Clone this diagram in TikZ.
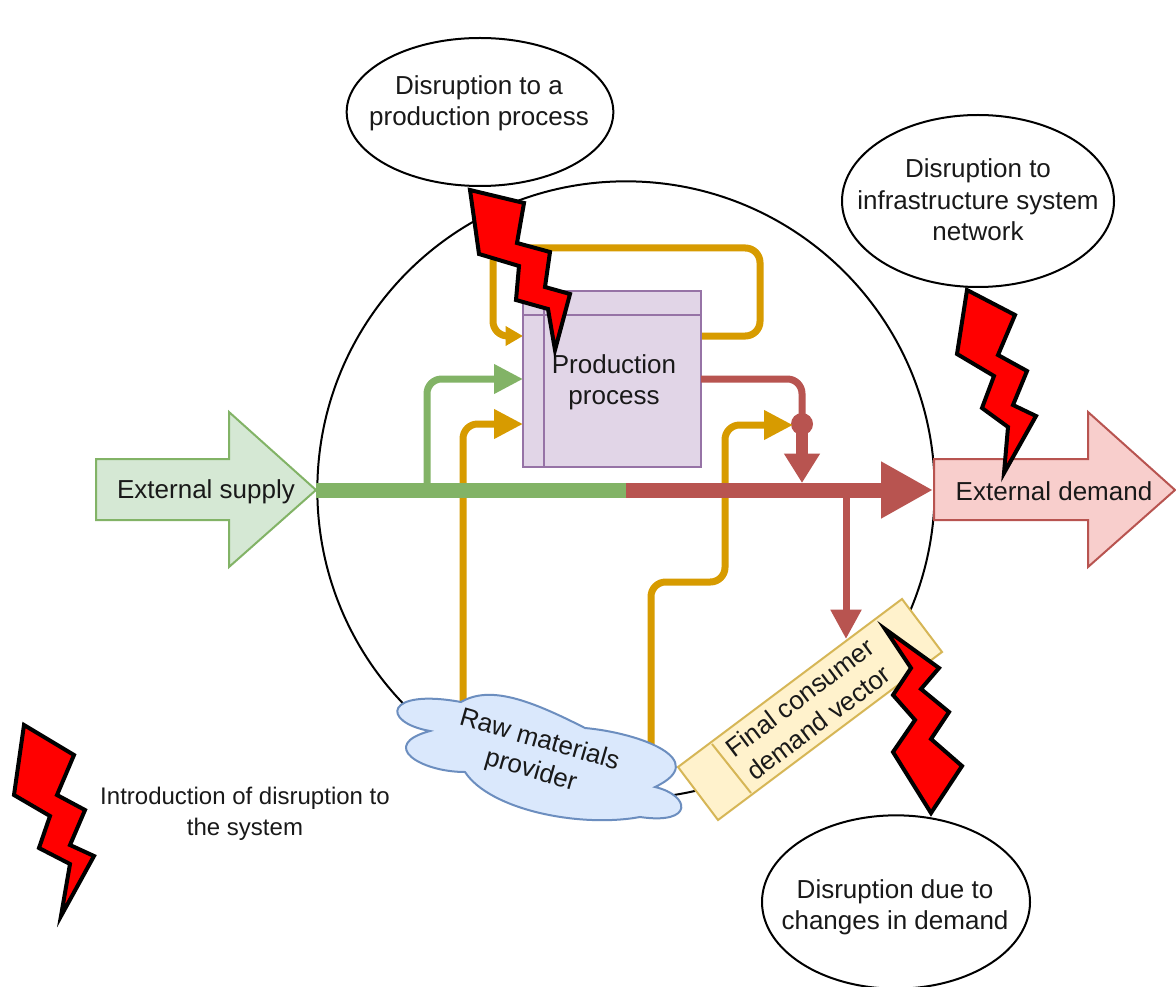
\documentclass[tikz,border=0pt]{standalone}
\usepackage{fontspec}
\setmainfont{Liberation Sans}
\usetikzlibrary{arrows.meta,shapes.geometric}
\definecolor{orangeline}{HTML}{D79B00}
\definecolor{greenline}{HTML}{82B366}
\definecolor{redline}{HTML}{B85450}
\definecolor{greenfill}{HTML}{D5E8D4}
\definecolor{redfill}{HTML}{F8CECC}
\definecolor{purpleline}{HTML}{9673A6}
\definecolor{purplefill}{HTML}{E1D5E7}
\definecolor{blueline}{HTML}{6C8EBF}
\definecolor{bluefill}{HTML}{DAE8FC}
\definecolor{yellowline}{HTML}{D6B656}
\definecolor{yellowfill}{HTML}{FFF2CC}
\tikzset{
  label text/.style={font=\fontsize{19.5pt}{23.5pt}\selectfont,align=center,text=black!90},
  bubble/.style={ellipse,draw=black,fill=white,line width=1.5pt,inner sep=0pt},
  bolt/.style={draw=black,fill=red,line width=3pt,miter limit=10},
  flow/.style={line width=5.25pt,rounded corners=11pt},
  bigtip/.style={-{Triangle[length=21.75pt,width=21pt]}},
  smalltip/.style={-{Triangle[length=13pt,width=14pt]}}
}
\begin{document}
\begin{tikzpicture}[x=0.75pt,y=-0.75pt]
\useasboundingbox (0,0) rectangle (1176,987);
\fill[white] (0,0) rectangle (1176,987);
% system boundary
\node (system) [circle,draw=black,line width=1.5pt,minimum size=463pt,inner sep=0pt] at (626,490) {};
% supply and demand
\draw[draw=greenline,fill=greenfill,line width=1.5pt]
  (96,459) -- (229,459) -- (229,412) -- (316,490) -- (229,567) -- (229,520) -- (96,520) -- cycle;
\draw[draw=redline,fill=redfill,line width=1.5pt]
  (934,459) -- (1088,459) -- (1088,412) -- (1175,490) -- (1088,567) -- (1088,520) -- (934,520) -- cycle;
\node (supply) [label text] at (206,492) {External supply};
\node (demand) [label text] at (1054,491) {External demand};
% named ends of the flows
\coordinate (supplytip) at (316,490);
\coordinate (split) at (626,490);
\coordinate (demandtip) at (933,490);
\coordinate (greenup) at (427,490);
\coordinate (redup) at (802,483);
\coordinate (reddown) at (846,490);
\coordinate (procloopout) at (701,336);
\coordinate (procloopin) at (523,336);
\coordinate (procraw) at (523,424);
\coordinate (rawleft) at (463,702);
\coordinate (rawright) at (651,748);
\coordinate (vectortop) at (846,639);
% process box
\draw[orangeline,flow,smalltip] (procloopout) -- (760,336) -- (760,248) -- (493,248) -- (493,336) -- (procloopin);
\node (process) [draw=purpleline,fill=purplefill,line width=1.5pt,minimum width=133.5pt,
  minimum height=132pt,inner sep=0pt,outer sep=0pt] at (612,379) {};
\draw[purpleline,line width=1.5pt] (523,315) -- (701,315) (544,291) -- (544,467);
\node (proctext) [label text] at (614,382) {Production\\process};
% flows
\node (junction) [circle,fill=redline,minimum size=16.5pt,inner sep=0pt] at (802,424) {};
\draw[orangeline,flow,bigtip] (rawleft) -- (463,424) -- (procraw);
\draw[orangeline,flow,bigtip] (rawright) -- (651,582) -- (725,582) -- (725,425) -- (793,425);
\draw[greenline,flow,bigtip] (greenup) -- (greenup|-process.west) -- (process.west);
\draw[redline,flow] (process.east) -- (junction|-process.east) -- (junction.center);
\draw[redline,line width=9pt,-{Triangle[length=22pt,width=25.5pt]}] (junction.center) -- (redup);
\draw[greenline,line width=11.25pt] (supplytip) -- (split);
\draw[redline,line width=11.25pt,-{Triangle[length=39pt,width=40pt]}] (split) -- (demandtip);
\draw[redline,line width=5.25pt,-{Triangle[length=22pt,width=22pt]}] (reddown) -- (vectortop);
% raw materials
\draw[draw=blueline,fill=bluefill,line width=1.5pt]
  (430,731) .. controls (380,722) and (385,688) .. (461,702)
  .. controls (490,685) and (530,700) .. (585,728)
  .. controls (640,733) and (712,760) .. (655,787)
  .. controls (690,795) and (695,825) .. (640,817)
  .. controls (580,828) and (490,810) .. (465,772)
  .. controls (420,772) and (378,745) .. (430,731) -- cycle;
\node (raw) [label text,rotate=-16] at (535,756) {Raw materials\\provider};
% final demand
\draw[draw=yellowline,fill=yellowfill,line width=1.5pt]
  (678,767) -- (902,599) -- (942,652) -- (718,820) -- cycle (712,744) -- (751,793);
\node (vector) [label text,rotate=37] at (809,710) {Final consumer\\demand vector};
% bubbles
\node (bubbleprocess) [bubble,minimum width=200pt,minimum height=111pt] at (480,112) {};
\node (bubblenetwork) [bubble,minimum width=204pt,minimum height=129pt] at (978,201) {};
\node (bubbledemand) [bubble,minimum width=201pt,minimum height=130pt] at (896,902) {};
\node (textprocess) [label text] at (479,103) {Disruption to a\\production process};
\node (textnetwork) [label text] at (978,200) {Disruption to\\infrastructure system\\network};
\node (textdemand) [label text] at (895,907) {Disruption due to\\changes in demand};
% bolts
\draw[bolt] (470,190) -- (524,203) -- (517,243) -- (550,252) -- (545,287) -- (570,294) -- (555,350) -- (548,309) -- (516,300) -- (519,266) -- (479,254) -- cycle;
\draw[bolt] (967,290) -- (1015,315) -- (998,355) -- (1027,371) -- (1013,405) -- (1036,416) -- (1004,473) -- (1008,427) -- (982,408) -- (994,376) -- (957,354) -- cycle;
\draw[bolt] (885,629) -- (939,668) -- (921,689) -- (949,712) -- (931,739) -- (962,766) -- (931,813) -- (893,752) -- (915,720) -- (893,695) -- (911,668) -- cycle;
\draw[bolt] (24,725) -- (74,755) -- (57,795) -- (85,810) -- (70,845) -- (94,856) -- (61,916) -- (70,864) -- (39,848) -- (50,816) -- (14,795) -- cycle;
\node (legend) [label text,font=\fontsize{18pt}{23.25pt}\selectfont] at (245,814) {Introduction of disruption to\\the system};
\end{tikzpicture}
\end{document}
